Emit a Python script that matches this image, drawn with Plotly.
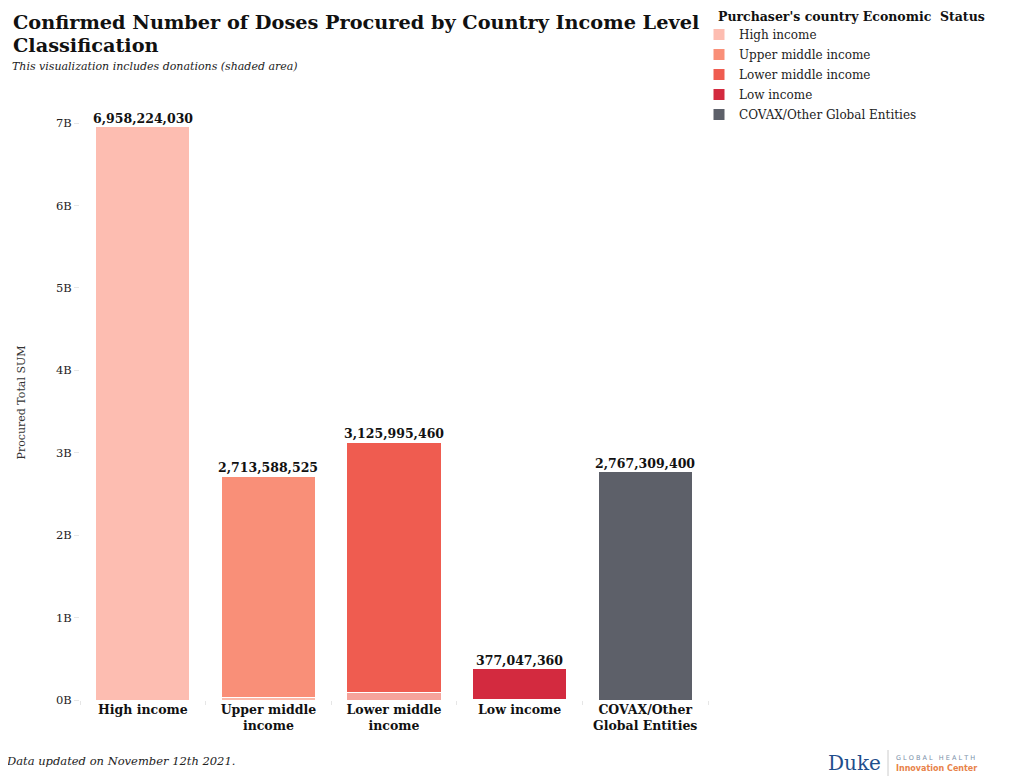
import plotly.graph_objects as go

categories = ["High income", "Upper middle income", "Lower middle income", "Low income", "COVAX/Other Global Entities"]
tick_labels = ["High income", "Upper middle<br>income", "Lower middle<br>income", "Low income", "COVAX/Other<br>Global Entities"]
totals = [6958224030, 2713588525, 3125995460, 377047360, 2767309400]
donations = [0, 36000000, 97000000, 12000000, 0]
colors = ["#FDBDB1", "#F98F78", "#EF5C50", "#D32A3F", "#5D6069"]
donation_colors = ["#FEDDD6", "#FBB8A8", "#F6A39B", "#EE8590", "#9A9CA3"]
purchased = [t - d for t, d in zip(totals, donations)]

SERIF = "Georgia, 'DejaVu Serif', serif"
OFF = 8  # page body margin
W, H = 1027 - OFF, 782 - OFF
L, T = 80 - OFF, 105 - OFF
R = W - (708 - OFF)
B = H - (700 - OFF)
PW, PH = W - L - R, H - T - B


def px(xs):
    return (xs - OFF - L) / PW


def py(ys):
    return (H - B - (ys - OFF)) / PH


fig = go.Figure()
for i, cat in enumerate(categories):
    fig.add_trace(go.Bar(
        x=[tick_labels[i]], y=[donations[i]], marker=dict(color=donation_colors[i], line=dict(color="white", width=1)),
        showlegend=False, hoverinfo="skip", legendgroup=cat))
for i, cat in enumerate(categories):
    fig.add_trace(go.Bar(
        x=[tick_labels[i]], y=[purchased[i]], name=cat,
        marker=dict(color=colors[i], line=dict(color="white", width=1)), legendgroup=cat))

for i in range(len(categories)):
    fig.add_annotation(x=tick_labels[i], y=totals[i], text=f"<b>{totals[i]:,}</b>", showarrow=False,
                       yanchor="bottom", yshift=-1, font=dict(family=SERIF, size=12.5, color="#111"))

fig.update_layout(
    barmode="stack", bargap=0.25,
    width=W, height=H,
    paper_bgcolor="white", plot_bgcolor="white",
    margin=dict(l=L, r=R, t=T, b=B, autoexpand=False),
    font=dict(family=SERIF, color="#222"),
    legend=dict(x=px(699), xanchor="left", y=py(20), yanchor="top", font=dict(size=12, color="#222"),
                traceorder="grouped", tracegroupgap=1),
    xaxis=dict(type="category", categoryorder="array", categoryarray=tick_labels, automargin=False,
               showgrid=False, ticks="outside", tickson="boundaries", ticklen=4, tickcolor="#e6e6e6",
               tickfont=dict(family=SERIF, size=12.5, color="#111", weight="bold"), showline=False),
    yaxis=dict(range=[0, 7.22e9], tickvals=[0, 1e9, 2e9, 3e9, 4e9, 5e9, 6e9, 7e9], automargin=False,
               ticktext=["0B", "1B", "2B", "3B", "4B", "5B", "6B", "7B"], showgrid=False, zeroline=False,
               ticks="outside", ticklen=5, tickcolor="#e6e6e6", tickfont=dict(size=11.5, color="#222"),
               title=dict(text="Procured Total SUM", font=dict(size=11, color="#333"), standoff=28)),
)

fig.add_annotation(text="<b>Confirmed Number of Doses Procured by Country Income Level</b>", xref="paper", yref="paper",
                   x=px(11), y=py(22), xanchor="left", yanchor="middle", showarrow=False,
                   font=dict(size=19.3, color="#111"))
fig.add_annotation(text="<b>Classification</b>", xref="paper", yref="paper",
                   x=px(11), y=py(46), xanchor="left", yanchor="middle", showarrow=False,
                   font=dict(size=19.3, color="#111"))
fig.add_annotation(text="<i>This visualization includes donations (shaded area)</i>", xref="paper", yref="paper",
                   x=px(10), y=py(66), xanchor="left", yanchor="middle", showarrow=False,
                   font=dict(size=11, color="#222"))
fig.add_annotation(text="<b>Purchaser's country Economic  Status</b>", xref="paper", yref="paper",
                   x=px(716), y=py(16), xanchor="left", yanchor="middle", showarrow=False,
                   font=dict(size=12.5, color="#111"))
fig.add_annotation(text="<i>Data updated on November 12th 2021.</i>", xref="paper", yref="paper",
                   x=px(4), y=py(761), xanchor="left", yanchor="middle", showarrow=False,
                   font=dict(size=11.5, color="#222"))
# Duke logo text
fig.add_annotation(text="Duke", xref="paper", yref="paper", x=px(826), y=py(763),
                   xanchor="left", yanchor="middle", showarrow=False,
                   font=dict(family=SERIF, size=20, color="#1F4E8C"))
fig.add_shape(type="line", xref="paper", yref="paper", x0=px(888), x1=px(888),
              y0=py(750), y1=py(776), line=dict(color="#cccccc", width=1))
fig.add_annotation(text="G L O B A L   H E A L T H", xref="paper", yref="paper", x=px(894),
                   y=py(758), xanchor="left", yanchor="middle", showarrow=False,
                   font=dict(family="DejaVu Sans", size=6.5, color="#7a8fa8"))
fig.add_annotation(text="<b>Innovation Center</b>", xref="paper", yref="paper", x=px(894),
                   y=py(768), xanchor="left", yanchor="middle", showarrow=False,
                   font=dict(family="DejaVu Sans", size=8, color="#E8834A"))

fig.write_html("out.html")
